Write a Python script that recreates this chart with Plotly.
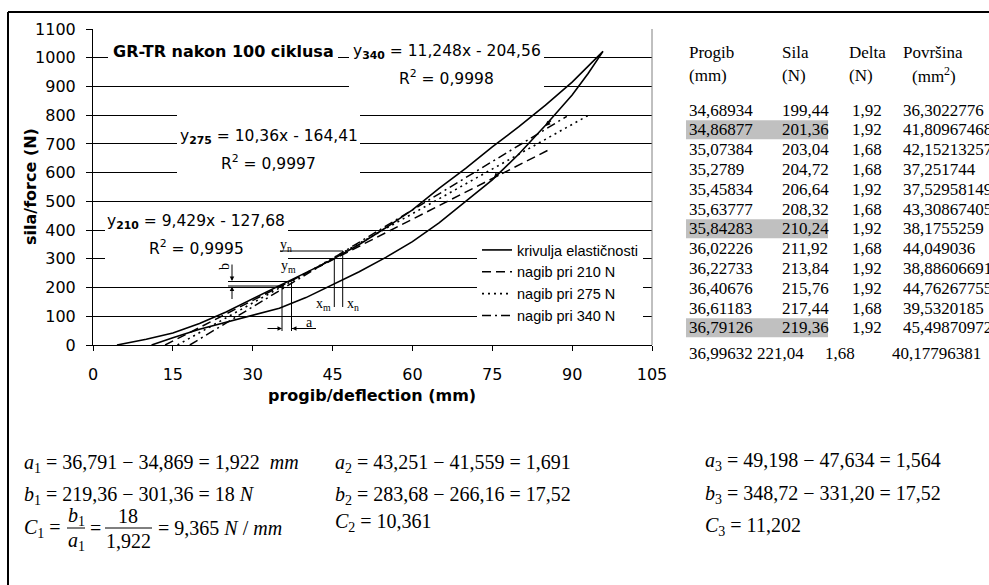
import plotly.graph_objects as go

# ---------------- data ----------------
# hysteresis loop "krivulja elastičnosti"
upper_x = [4.5, 10, 15, 20, 25, 30, 35, 40, 45, 50, 55, 60, 65, 70, 75, 80, 85, 90, 95.8]
upper_y = [0, 20, 42, 75, 115, 160, 205, 252, 298, 350, 408, 470, 545, 615, 690, 760, 835, 915, 1022]
lower_x = [11, 15, 20, 25, 30, 35, 40, 45, 50, 55, 60, 65, 70, 75, 80, 85, 90, 93, 95.8]
lower_y = [0, 25, 55, 80, 103, 128, 165, 210, 255, 305, 360, 425, 500, 575, 665, 765, 870, 945, 1022]

# linear trend lines (end points)
fit210_x = [13.54, 86.1]
fit210_y = [0, 684]
fit275_x = [15.87, 93.1]
fit275_y = [0, 800]
fit340_x = [18.19, 89.0]
fit340_y = [0, 796]

series_names = ["krivulja elastičnosti", "nagib pri 210 N", "nagib pri 275 N", "nagib pri 340 N"]

x_ticks = [0, 15, 30, 45, 60, 75, 90, 105]
y_ticks = [0, 100, 200, 300, 400, 500, 600, 700, 800, 900, 1000, 1100]

# direction arrows on the unloading curve
dir_arrow_x = [75.3, 85.0]
dir_arrow_y = [582, 762]

# table on the right
tab_progib = ["34,68934", "34,86877", "35,07384", "35,2789", "35,45834", "35,63777",
              "35,84283", "36,02226", "36,22733", "36,40676", "36,61183", "36,79126"]
tab_sila = ["199,44", "201,36", "203,04", "204,72", "206,64", "208,32",
            "210,24", "211,92", "213,84", "215,76", "217,44", "219,36"]
tab_delta = ["1,92", "1,92", "1,68", "1,68", "1,92", "1,68",
             "1,92", "1,68", "1,92", "1,92", "1,68", "1,92"]
tab_povrsina = ["36,3022776", "41,80967468", "42,15213257", "37,251744", "37,52958149",
                "43,30867405", "38,1755259", "44,049036", "38,88606691", "44,76267755",
                "39,5320185", "45,49870972"]
tab_highlight = [1, 6, 11]
tab_last = ["36,99632", "221,04", "1,68", "40,17796381"]

# ---------------- geometry helpers ----------------
W, H = 989, 585
ML, MR, MT, MB = 93, 337, 29, 240
PW = W - ML - MR
PH = H - MT - MB
XMAX, YMAX = 105, 1100
SANS = "DejaVu Sans, Arial, sans-serif"
LEGF = "Liberation Sans, Arial, sans-serif"
SERIF = "Liberation Serif, Times New Roman, serif"


def px(x):
    return (x - ML) / PW


def py(y):
    return 1 - (y - MT) / PH


def dx(xp):
    return (xp - ML) / PW * XMAX


def dy(yp):
    return (MT + PH - yp) / PH * YMAX


fig = go.Figure()

fig.add_trace(go.Scatter(x=upper_x + lower_x[::-1], y=upper_y + lower_y[::-1], mode="lines",
                         name=series_names[0], line=dict(color="black", width=1.6)))
fig.add_trace(go.Scatter(x=fit210_x, y=fit210_y, mode="lines", name=series_names[1],
                         line=dict(color="black", width=1.5, dash="9px,5px")))
fig.add_trace(go.Scatter(x=fit275_x, y=fit275_y, mode="lines", name=series_names[2],
                         line=dict(color="black", width=1.6, dash="2px,4px")))
fig.add_trace(go.Scatter(x=fit340_x, y=fit340_y, mode="lines", name=series_names[3],
                         line=dict(color="black", width=1.5, dash="9px,4px,2px,4px")))

shapes = []
# white label boxes covering gridlines
for (x0, y0, x1, y1) in [(108, 42, 338, 70), (349, 40, 544, 98), (177, 104, 360, 182), (105, 210, 288, 270)]:
    shapes.append(dict(type="rect", xref="x", yref="y", x0=dx(x0), x1=dx(x1), y0=dy(y1), y1=dy(y0),
                       fillcolor="white", line=dict(width=0), layer="between"))
# plot area border (right side)
shapes.append(dict(type="line", xref="paper", yref="paper", x0=1, x1=1, y0=0, y1=1,
                   line=dict(color="#808080", width=1)))
# outer frame
shapes.append(dict(type="line", xref="paper", yref="paper", x0=px(8), x1=px(995), y0=py(12), y1=py(12),
                   line=dict(color="black", width=2)))
shapes.append(dict(type="line", xref="paper", yref="paper", x0=px(8), x1=px(8), y0=py(12), y1=py(600),
                   line=dict(color="black", width=2)))


def seg(x0, y0, x1, y1, w=1, color="black"):
    shapes.append(dict(type="line", xref="paper", yref="paper", x0=px(x0), x1=px(x1), y0=py(y0), y1=py(y1),
                       line=dict(color=color, width=w)))


# construction lines (schematic)
seg(280, 251, 343, 251)
seg(334.3, 258, 334.3, 307)
seg(342.7, 251, 342.7, 307)
seg(228, 281.5, 290, 281.5)
seg(228, 286, 283, 286)
seg(282, 284, 282, 331)
seg(291.5, 281.5, 291.5, 331)
seg(292, 328.5, 316, 328.5)

annotations = []


def txt(x, y, text, size, family=SANS, xanchor="center", color="black", **kw):
    annotations.append(dict(x=px(x), y=py(y), xref="paper", yref="paper", text=text, showarrow=False,
                            xanchor=xanchor, yanchor="middle", font=dict(family=family, size=size, color=color), **kw))


def arrow(xh, yh, axp, ayp):
    annotations.append(dict(x=px(xh), y=py(yh), xref="paper", yref="paper", text="", showarrow=True,
                            ax=axp, ay=ayp, arrowhead=2, arrowsize=0.9, arrowwidth=1, arrowcolor="black",
                            standoff=0))


# title and equations
EQ = 15.5
txt(223, 52, "<b>GR-TR nakon 100 ciklusa</b>", 16)
txt(446.7, 52, "y<sub><b>340</b></sub> = 11,248x - 204,56", EQ)
txt(446.7, 77, "R<sup>2</sup> = 0,9998", EQ)
txt(268.5, 137, "y<sub><b>275</b></sub> = 10,36x - 164,41", EQ)
txt(268, 162, "R<sup>2</sup> = 0,9997", EQ)
txt(196, 222, "y<sub><b>210</b></sub> = 9,429x - 127,68", EQ)
txt(196, 247, "R<sup>2</sup> = 0,9995", EQ)

# axis titles
txt(372, 395, "<b>progib/deflection (mm)</b>", 16)
txt(30, 187, "<b>sila/force (N)</b>", 16, textangle=-90)

# small schematic labels
txt(286, 245, "y<sub>n</sub>", 14, family=SERIF)
txt(288, 266, "y<sub>m</sub>", 14, family=SERIF)
txt(323, 304, "x<sub>m</sub>", 14, family=SERIF)
txt(353, 304, "x<sub>n</sub>", 14, family=SERIF)
txt(309, 322, "a", 14, family=SERIF)
txt(224, 267, "b", 14, family=SERIF, textangle=-90)
arrow(282, 328.5, -16, 0)
arrow(292, 328.5, 18, 0)
arrow(232, 281, 0, -18)
arrow(232, 286.5, 0, 14)

# direction arrows on the curve
for ax_, ay_ in zip(dir_arrow_x, dir_arrow_y):
    annotations.append(dict(x=ax_, y=ay_, xref="x", yref="y", text="", showarrow=True, ax=7, ay=-7,
                            arrowhead=2, arrowsize=0.9, arrowwidth=1.1, arrowcolor="black", standoff=0))

# table
col_x = [687, 780, 850, 901]
txt(687, 53, "Progib", 17, family=SERIF, xanchor="left")
txt(687, 75, "(mm)", 17, family=SERIF, xanchor="left")
txt(780, 53, "Sila", 17, family=SERIF, xanchor="left")
txt(780, 75, "(N)", 17, family=SERIF, xanchor="left")
txt(847, 53, "Delta", 17, family=SERIF, xanchor="left")
txt(847, 75, "(N)", 17, family=SERIF, xanchor="left")
txt(901, 53, "Površina", 17, family=SERIF, xanchor="left")
txt(910, 75, "(mm<sup>2</sup>)", 17, family=SERIF, xanchor="left")
ROW0, ROWSTEP = 110, 19.8
for i in range(len(tab_progib)):
    yy = ROW0 + i * ROWSTEP
    if i in tab_highlight:
        shapes.append(dict(type="rect", xref="paper", yref="paper", x0=px(686), x1=px(828),
                           y0=py(yy + 9.5), y1=py(yy - 9.5), fillcolor="#c0c0c0", line=dict(width=0),
                           layer="below"))
    for cx, val in zip(col_x, [tab_progib[i], tab_sila[i], tab_delta[i], tab_povrsina[i]]):
        txt(cx, yy, val, 17, family=SERIF, xanchor="left")
for cx, val in zip([687, 755, 823, 890], tab_last):
    txt(cx, 353, val, 17, family=SERIF, xanchor="left")

# formulas under the chart
FS = 20
txt(22, 463, "<i>a</i><sub>1</sub> = 36,791 − 34,869 = 1,922  <i>mm</i>", FS, family=SERIF, xanchor="left")
txt(22, 495, "<i>b</i><sub>1</sub> = 219,36 − 301,36 = 18 <i>N</i>", FS, family=SERIF, xanchor="left")
txt(22, 528, "<i>C</i><sub>1</sub> =", FS, family=SERIF, xanchor="left")
txt(76, 516, "<i>b</i><sub>1</sub>", FS, family=SERIF)
txt(76, 541, "<i>a</i><sub>1</sub>", FS, family=SERIF)
seg(67, 528, 85, 528)
txt(95, 528, "=", FS, family=SERIF)
txt(128, 516, "18", FS, family=SERIF)
txt(128, 541, "1,922", FS, family=SERIF)
seg(105, 528, 152, 528)
txt(156, 528, "= 9,365 <i>N</i> / <i>mm</i>", FS, family=SERIF, xanchor="left")

txt(333, 463, "<i>a</i><sub>2</sub> = 43,251 − 41,559 = 1,691", FS, family=SERIF, xanchor="left")
txt(333, 495, "<i>b</i><sub>2</sub> = 283,68 − 266,16 = 17,52", FS, family=SERIF, xanchor="left")
txt(333, 522, "<i>C</i><sub>2</sub> = 10,361", FS, family=SERIF, xanchor="left")

txt(703, 461, "<i>a</i><sub>3</sub> = 49,198 − 47,634 = 1,564", FS, family=SERIF, xanchor="left")
txt(703, 494, "<i>b</i><sub>3</sub> = 348,72 − 331,20 = 17,52", FS, family=SERIF, xanchor="left")
txt(703, 526, "<i>C</i><sub>3</sub> = 11,202", FS, family=SERIF, xanchor="left")

fig.update_layout(
    width=W, height=H,
    margin=dict(l=ML, r=MR, t=MT, b=MB, pad=0),
    paper_bgcolor="white", plot_bgcolor="white",
    showlegend=True,
    legend=dict(x=px(477), y=py(234), xanchor="left", yanchor="top", bgcolor="white", borderwidth=0,
                font=dict(family=LEGF, size=14.5, color="black"), tracegroupgap=0, itemwidth=30),
    xaxis=dict(range=[0, XMAX], tickmode="array", tickvals=x_ticks, ticktext=[str(v) for v in x_ticks],
               showgrid=False, zeroline=False, showline=True, linecolor="black", linewidth=1,
               ticks="outside", ticklen=5, tickcolor="black", tickwidth=1,
               tickfont=dict(family=SANS, size=16, color="black"), ticklabelstandoff=10, fixedrange=True),
    yaxis=dict(range=[0, YMAX], tickmode="array", tickvals=y_ticks, ticktext=[str(v) for v in y_ticks],
               showgrid=True, gridcolor="black", gridwidth=1, zeroline=False, showline=True,
               linecolor="black", linewidth=1, ticks="outside", ticklen=6, tickcolor="black", tickwidth=1,
               tickfont=dict(family=SANS, size=16, color="black"), ticklabelstandoff=7, fixedrange=True),
    shapes=shapes,
    annotations=annotations,
)

fig.write_html("out.html", config={"displayModeBar": False})
